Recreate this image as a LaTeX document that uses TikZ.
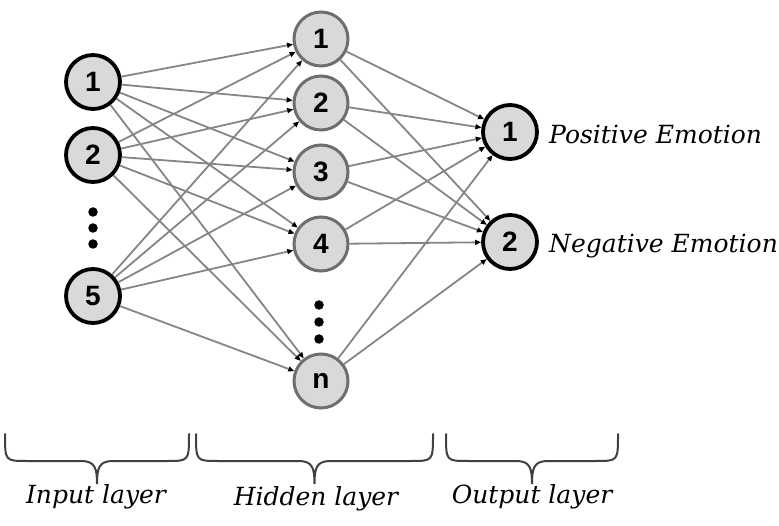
\documentclass[tikz,border=0pt]{standalone}
\usepackage{fontspec}
\setmainfont{DejaVu Serif}
\newfontfamily\numfont{Liberation Sans}
\usetikzlibrary{arrows.meta}
\definecolor{nfill}{HTML}{D9D9D9}
\definecolor{edgec}{HTML}{858585}
\definecolor{hborder}{HTML}{6E6E6E}
\begin{document}
\begin{tikzpicture}[x=1pt,y=-1pt,
  neuron/.style={circle,minimum size=54pt,inner sep=0pt,fill=nfill,font=\numfont\bfseries\fontsize{28}{28}\selectfont},
  inneuron/.style={neuron,draw=black,line width=3.8pt},
  hidneuron/.style={neuron,draw=hborder,line width=3pt},
  outneuron/.style={neuron,draw=black,line width=3.8pt},
  conn/.style={draw=edgec,line width=1.8pt,-{Triangle[length=6pt,width=5pt,color=black]}},
  vdot/.style={circle,fill=black,minimum size=9.5pt,inner sep=0pt},
  lbl/.style={font=\itshape\fontsize{25}{25}\selectfont},
  brc/.style={draw=black!75,line width=2pt,line cap=round}
]
\useasboundingbox (0,0) rectangle (779,526);
% input layer
\node[inneuron] (i1) at (93,82) {1};
\node[inneuron] (i2) at (93,155) {2};
\node[inneuron] (i5) at (93,296) {5};
\node[vdot] (id1) at (93,212) {};
\node[vdot] (id2) at (93,228) {};
\node[vdot] (id3) at (93,244) {};
% hidden layer
\node[hidneuron] (h1) at (321,39) {1};
\node[hidneuron] (h2) at (321,103) {2};
\node[hidneuron] (h3) at (321,172) {3};
\node[hidneuron] (h4) at (321,244) {4};
\node[hidneuron] (hn) at (321,381) {n};
\node[vdot] (hd1) at (319,305) {};
\node[vdot] (hd2) at (319,322) {};
\node[vdot] (hd3) at (319,339) {};
% output layer
\node[outneuron] (o1) at (510,132) {1};
\node[outneuron] (o2) at (510,242) {2};
\node[lbl,anchor=west,inner sep=0pt] (pos) at (549,134) {Positive Emotion};
\node[lbl,anchor=west,inner sep=0pt] (neg) at (549,246) {Negative Emotion};
% connections
\foreach \a in {i1,i2,i5}{
  \foreach \b in {h1,h2,h3,h4,hn}{
    \draw[conn] (\a) -- (\b);
  }
}
\foreach \a in {h1,h2,h3,h4,hn}{
  \foreach \b in {o1,o2}{
    \draw[conn] (\a) -- (\b);
  }
}
% braces
\foreach \xa/\xb in {5/189, 196/433, 446/618}{
  \pgfmathsetmacro{\xm}{(\xa+\xb)/2}
  \draw[brc] (\xa,434) .. controls (\xa,461) .. (\xa+22,461)
     -- (\xm-16,461) .. controls (\xm-2,461) and (\xm,468) .. (\xm,484)
     .. controls (\xm,468) and (\xm+2,461) .. (\xm+16,461)
     -- (\xb-22,461) .. controls (\xb,461) .. (\xb,434);
}
\node[lbl] (l1) at (96,497) {Input layer};
\node[lbl] (l2) at (316,499) {Hidden layer};
\node[lbl] (l3) at (532,497) {Output layer};
\end{tikzpicture}
\end{document}
